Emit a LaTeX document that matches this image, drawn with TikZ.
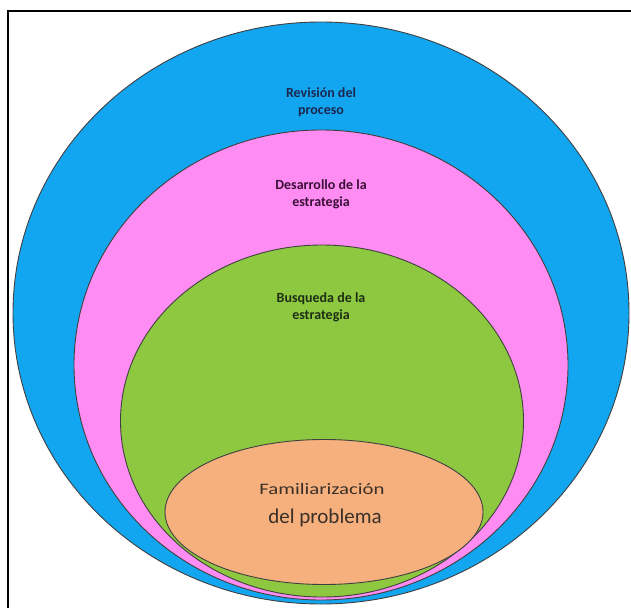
\documentclass[tikz,border=0pt]{standalone}
\usepackage{fontspec}
\setmainfont{Carlito}
\usetikzlibrary{shapes.geometric}
\definecolor{cblue}{HTML}{12A6F0}
\definecolor{cpink}{HTML}{FF8CF2}
\definecolor{cgreen}{HTML}{8DC840}
\definecolor{corange}{HTML}{F5B07E}
\definecolor{tblue}{HTML}{1C2850}
\definecolor{tpink}{HTML}{3A1038}
\definecolor{tgreen}{HTML}{1E2E14}
\definecolor{tgray}{HTML}{3A3028}
\tikzset{
  ring/.style={ellipse, draw=black!75, line width=0.9pt, inner sep=0pt},
  lbl/.style={align=center, font=\bfseries\fontsize{14}{17}\selectfont},
}
\begin{document}
\begin{tikzpicture}[x=1pt,y=-1pt]
\useasboundingbox (0,0) rectangle (631,607);
\fill[white] (0,0) rectangle (631,607);
\draw[line width=2.2pt] (8,640) -- (8,11) -- (660,11);
\node[ring, fill=cblue, minimum width=616, minimum height=582] (blue) at (321,313) {};
\node[ring, fill=cpink, minimum width=494, minimum height=470] (pink) at (321,365) {};
\node[ring, fill=cgreen, minimum width=403, minimum height=352] (green) at (322,421) {};
\node[ring, fill=corange, minimum width=318, minimum height=145] (orange) at (324,512) {};
\node[lbl, text=tblue] (t1) at (321,102) {Revisión del\\proceso};
\node[lbl, text=tpink] (t2) at (321,194) {Desarrollo de la\\estrategia};
\node[lbl, text=tgreen] (t3) at (321,307) {Busqueda de la\\estrategia};
\node[text=tgray, font=\fontsize{16}{18}\selectfont] (t4) at (322,489) {\scalebox{1.3}[1]{Familiarización}};
\node[text=tgray, font=\fontsize{21}{23}\selectfont] (t5) at (325,518) {del problema};
\end{tikzpicture}
\end{document}
